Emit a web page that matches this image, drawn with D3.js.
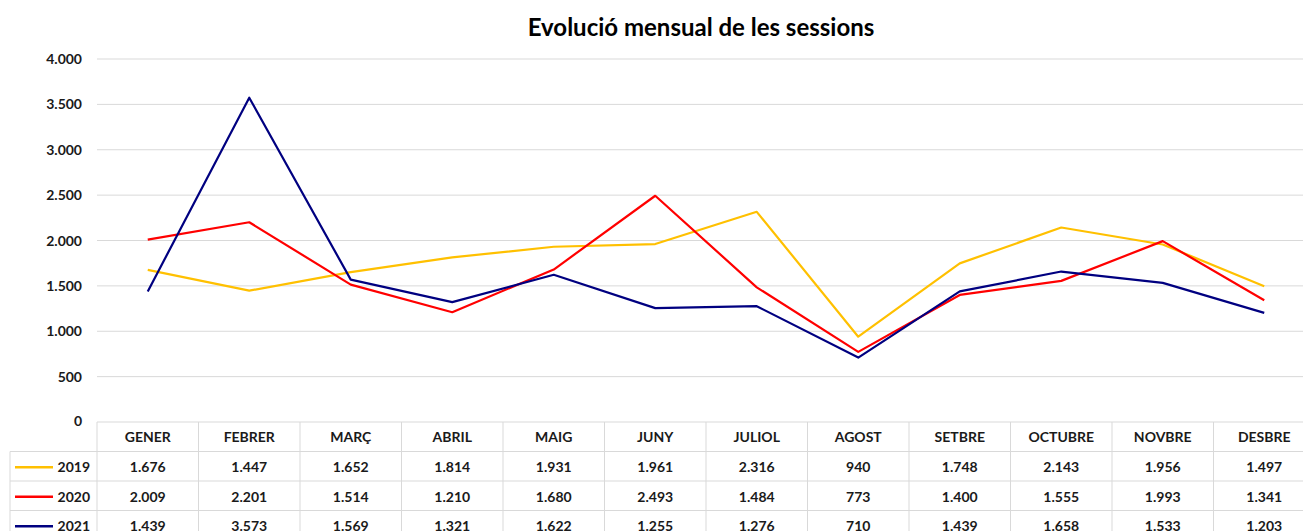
<!DOCTYPE html>
<html>
<head>
  <script src="https://d3js.org/d3.v7.min.js"></script>
  <style>
    body { margin: 0; background: #fff; }
    svg { font-family: Lato, "Open Sans", sans-serif; font-weight: bold; }
    .title { font-size: 24px; }
    .tick-label { font-size: 14px; fill: #1a1a1a; }
    .cell { font-size: 14px; fill: #1a1a1a; }
  </style>
</head>
<body>
  <div id="chart"></div>
  <script>
    const months = ["GENER", "FEBRER", "MARÇ", "ABRIL", "MAIG", "JUNY", "JULIOL", "AGOST", "SETBRE", "OCTUBRE", "NOVBRE", "DESBRE"];
    const years = ["2019", "2020", "2021"];
    const sessions2019 = [1676, 1447, 1652, 1814, 1931, 1961, 2316, 940, 1748, 2143, 1956, 1497];
    const sessions2020 = [2009, 2201, 1514, 1210, 1680, 2493, 1484, 773, 1400, 1555, 1993, 1341];
    const sessions2021 = [1439, 3573, 1569, 1321, 1622, 1255, 1276, 710, 1439, 1658, 1533, 1203];
    const yTicks = [0, 500, 1000, 1500, 2000, 2500, 3000, 3500, 4000];
    const colors = ["#FFC000", "#FF0000", "#000080"];

    const series = [sessions2019, sessions2020, sessions2021];
    const W = 1303, H = 531;
    const plotLeft = 97, colW = 101.5;
    const plotTop = 59, base = 422;
    const rowH = 29.5;

    const svg = d3.select("#chart").append("svg")
      .attr("width", W).attr("height", H);

    const x = d3.scaleBand().domain(months).range([plotLeft, plotLeft + colW * months.length]);
    const y = d3.scaleLinear().domain([0, 4000]).range([base, plotTop]);
    const fmt = v => d3.format(",")(v).replace(/,/g, ".");

    svg.append("text").attr("class", "title")
      .attr("x", 701).attr("y", 36).attr("text-anchor", "middle")
      .text("Evolució mensual de les sessions");

    // gridlines
    svg.append("g").selectAll("line")
      .data(yTicks.filter(d => d > 0))
      .join("line")
      .attr("x1", plotLeft).attr("x2", W)
      .attr("y1", d => y(d)).attr("y2", d => y(d))
      .attr("stroke", "#d9d9d9").attr("stroke-width", 1);

    svg.append("g").selectAll("text")
      .data(yTicks)
      .join("text").attr("class", "tick-label")
      .attr("x", 82).attr("y", d => y(d) + (d === 0 ? 4 : 5))
      .attr("text-anchor", "end")
      .text(fmt);

    // table grid
    const tableBottom = base + rowH * 4;
    const grid = svg.append("g").attr("stroke", "#d9d9d9").attr("stroke-width", 1);
    grid.append("line").attr("x1", plotLeft).attr("x2", W).attr("y1", base).attr("y2", base);
    for (let r = 1; r <= 3; r++) {
      grid.append("line").attr("x1", 10).attr("x2", W)
        .attr("y1", base + rowH * r).attr("y2", base + rowH * r);
    }
    grid.append("line").attr("x1", 10).attr("x2", 10)
      .attr("y1", base + rowH).attr("y2", tableBottom);
    grid.selectAll("line.v")
      .data(months.concat(["end"]))
      .join("line").attr("class", "v")
      .attr("x1", (d, i) => plotLeft + i * colW).attr("x2", (d, i) => plotLeft + i * colW)
      .attr("y1", base).attr("y2", tableBottom);

    svg.append("g").selectAll("text")
      .data(months)
      .join("text").attr("class", "cell")
      .attr("x", d => x(d) + x.bandwidth() / 2)
      .attr("y", base + rowH / 2 + 5)
      .attr("text-anchor", "middle")
      .text(d => d);

    years.forEach((yr, i) => {
      const rowY = base + rowH * (i + 1);
      svg.append("line")
        .attr("x1", 15).attr("x2", 53)
        .attr("y1", rowY + rowH / 2 + 1).attr("y2", rowY + rowH / 2 + 1)
        .attr("stroke", colors[i]).attr("stroke-width", 2.5);
      svg.append("text").attr("class", "cell")
        .attr("x", 90).attr("y", rowY + rowH / 2 + 6)
        .attr("text-anchor", "end").text(yr);
      svg.append("g").selectAll("text")
        .data(series[i])
        .join("text").attr("class", "cell")
        .attr("x", (d, j) => x(months[j]) + x.bandwidth() / 2)
        .attr("y", rowY + rowH / 2 + 6)
        .attr("text-anchor", "middle")
        .text(fmt);
    });

    // lines
    const line = d3.line()
      .x((d, j) => x(months[j]) + x.bandwidth() / 2)
      .y(d => y(d));

    series.forEach((s, i) => {
      svg.append("path")
        .datum(s)
        .attr("fill", "none")
        .attr("stroke", colors[i])
        .attr("stroke-width", 2.2)
        .attr("stroke-linejoin", "round")
        .attr("d", line);
    });
  </script>
</body>
</html>
